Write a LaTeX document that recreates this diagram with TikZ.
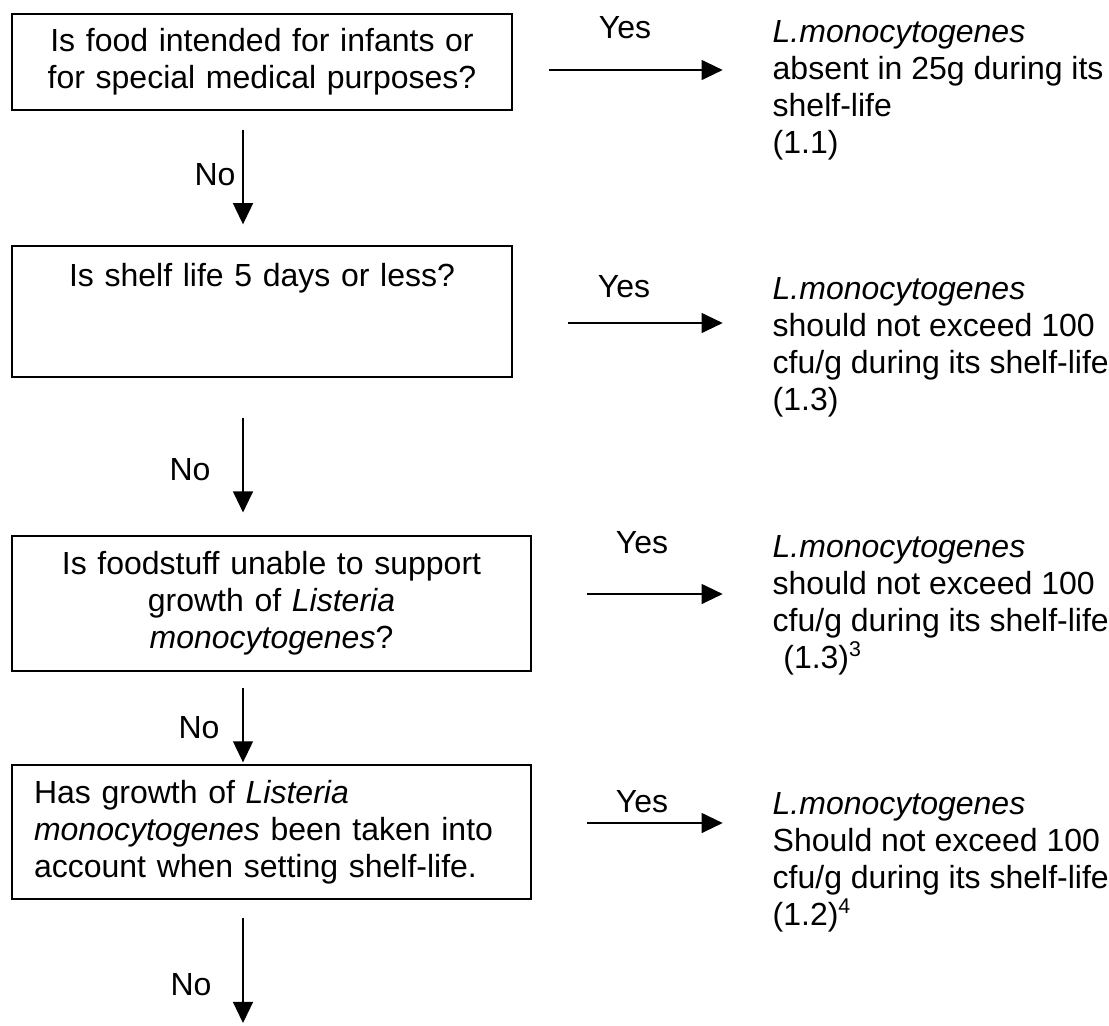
\documentclass[tikz,border=0pt]{standalone}
\usepackage{fontspec}
\setmainfont{Liberation Sans}
\usetikzlibrary{arrows.meta}
\usetikzlibrary{positioning}
\tikzset{every picture/.style={line width=0.5pt}}

\begin{document}
\begin{tikzpicture}[x=0.375pt, y=-0.375pt,
  every node/.style={font=\fontsize{12pt}{13.875pt}\selectfont},
  qbox/.style={draw, align=center, inner xsep=0pt, inner ysep=0pt},
  ans/.style={anchor=north west, align=left, inner sep=0pt},
  arr/.style={-{Triangle[length=7.9pt,width=7.5pt]}}]
\useasboundingbox (0,0) rectangle (1109,1025);

\node (q1) at (262,62) [qbox, text width=187.5pt, minimum height=36pt] {Is food intended for infants or\\for special medical purposes?};
\node (q2) at (262,311.5) [qbox, text width=187.5pt, minimum height=49.1pt] {Is shelf life 5 days or less?\\~\\~};
\node (q3) at (271.5,603.5) [qbox, text width=194.6pt, minimum height=50.6pt] {Is foodstuff unable to support\\growth of \textit{Listeria}\\\textit{monocytogenes}?};
\node (q4) at (271.5,832) [qbox, align=left, inner xsep=8.25pt, text width=178.1pt, minimum height=50.25pt] {Has growth of \textit{Listeria}\\\textit{monocytogenes} been taken into\\account when setting shelf-life.};

\node (a1) at (772,15.6) [ans] {\strut\textit{L.monocytogenes}\\absent in 25g during its\\shelf-life\\(1.1)};
\node (a2) at (772,272.6) [ans] {\strut\textit{L.monocytogenes}\\should not exceed 100\\cfu/g during its shelf-life\\(1.3)};
\node (a3) at (772,530.6) [ans] {\strut\textit{L.monocytogenes}\\should not exceed 100\\cfu/g during its shelf-life\\\hspace*{4pt}(1.3)\textsuperscript{3}};
\node (a4) at (772,787.6) [ans] {\strut\textit{L.monocytogenes}\\Should not exceed 100\\cfu/g during its shelf-life\\(1.2)\textsuperscript{4}};

\coordinate (col) at (243,0);
\coordinate (end) at (243,1023);
\coordinate (s1) at (549,70);
\coordinate (s2) at (568,323);
\coordinate (s3) at (587,594);
\coordinate (s4) at (587,823);

\node (no1) at (215,175) {No};
\node (no2) at (190,470) {No};
\node (no3) at (199,728) {No};
\node (no4) at (191,985) {No};
\node (yes1) at (625,28) {Yes};
\node (yes2) at (624,287) {Yes};
\node (yes3) at (642,543) {Yes};
\node (yes4) at (642,802) {Yes};

\draw [arr, shorten <=7.1pt, shorten >=7.9pt] (q1.south -| col) -- (q2.north -| col);
\draw [arr, shorten <=15pt, shorten >=8.6pt] (q2.south -| col) -- (q3.north -| col);
\draw [arr, shorten <=6pt, shorten >=0.75pt] (q3.south -| col) -- (q4.north -| col);
\draw [arr, shorten <=6.75pt] (q4.south -| col) -- (end);

\draw [arr, shorten >=18.5pt] (s1) -- (s1 -| a1.west);
\draw [arr, shorten >=18.5pt] (s2) -- (s2 -| a2.west);
\draw [arr, shorten >=18.5pt] (s3) -- (s3 -| a3.west);
\draw [arr, shorten >=18.5pt] (s4) -- (s4 -| a4.west);
\end{tikzpicture}
\end{document}
